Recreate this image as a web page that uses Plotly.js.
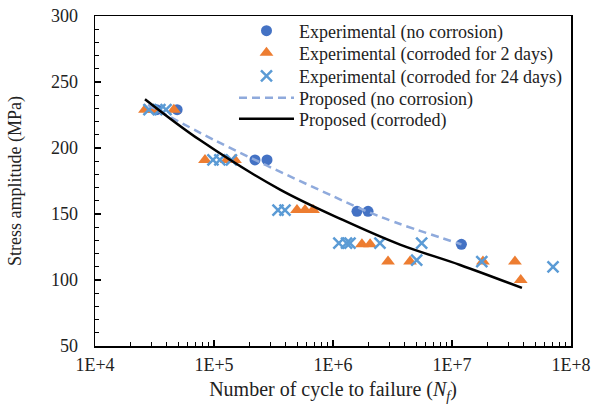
<!DOCTYPE html>
<html>
<head>
<meta charset="utf-8">
<script src="https://cdn.plot.ly/plotly-3.0.1.min.js"></script>
<style>html,body{margin:0;padding:0;background:#fff}#chart{width:594px;height:407px}</style>
</head>
<body>
<div id="chart"></div>
<script>
// Experimental (no corrosion)
const noCorrN = [33000, 49000, 221000, 279000, 1590000, 1970000, 12000000];
const noCorrS = [229, 229, 191, 191, 152, 152, 127];
// Experimental (corroded for 2 days)
const c2N = [26300, 31000, 46000, 84000, 128000, 150000, 498000, 582000, 680000, 1750000, 2050000, 2900000, 4440000, 18200000, 33800000, 37800000];
const c2S = [229, 229, 229, 191, 191, 191, 153, 153, 153, 127, 127, 114, 114, 114, 114, 100];
// Experimental (corroded for 24 days)
const c24N = [28400, 35100, 39500, 98000, 112000, 140000, 345000, 395000, 1120000, 1300000, 1390000, 2480000, 5050000, 5560000, 17800000, 70600000];
const c24S = [229, 229, 229, 191, 191, 191, 153, 153, 128, 128, 128, 128, 115, 128, 114, 110];
// Proposed (no corrosion)
const propNoN = [27900, 106000, 778000, 2480000, 12000000];
const propNoS = [232.6, 205, 168, 148, 127];
// Proposed (corroded)
const propCN = [26300, 76200, 359000, 1210000, 3660000, 11700000, 38700000];
const propCS = [237, 206, 168.5, 145.5, 126.8, 111.4, 94];
// Tick labels
const xTickVals = [1e4, 1e5, 1e6, 1e7, 1e8];
const xTickText = ['1E+4', '1E+5', '1E+6', '1E+7', '1E+8'];

const FAM = 'Liberation Serif';
const tickFont = {family: FAM, size: 18, color: '#222'};
const legFont = {family: FAM, size: 18, color: '#222'};

const traces = [
  {x: noCorrN, y: noCorrS, name: 'Experimental (no corrosion)', mode: 'markers', type: 'scatter', legend: 'legend',
   marker: {symbol: 'circle', size: 11, color: '#4472c4'}},
  {x: c2N, y: c2S, name: 'Experimental (corroded for 2 days)', mode: 'markers', type: 'scatter', legend: 'legend2',
   marker: {symbol: 'triangle-up', size: 12, color: '#ed7d31'}},
  {x: c24N, y: c24S, name: 'Experimental (corroded for 24 days)', mode: 'markers', type: 'scatter', legend: 'legend3',
   marker: {symbol: 'x-thin-open', size: 11, color: '#5b9bd5', line: {width: 2.5, color: '#5b9bd5'}}},
  {x: propNoN, y: propNoS, name: 'Proposed (no corrosion)', mode: 'lines', type: 'scatter', legend: 'legend4',
   line: {color: '#8faadc', width: 2.5, dash: '8px,5px', shape: 'spline'}},
  {x: propCN, y: propCS, name: 'Proposed (corroded)', mode: 'lines', type: 'scatter', legend: 'legend5',
   line: {color: '#000000', width: 2.5, shape: 'spline'}}
];

function leg(yc) {
  return {x: 0.292, y: yc, xanchor: 'left', yanchor: 'middle', bgcolor: 'rgba(0,0,0,0)',
          font: legFont, itemwidth: 55, tracegroupgap: 0};
}

const layout = {
  width: 594, height: 407,
  margin: {l: 95, r: 23, t: 16, b: 61},
  paper_bgcolor: '#fff', plot_bgcolor: '#fff',
  font: {family: FAM, size: 18, color: '#222'},
  showlegend: true,
  legend: leg(0.9545),
  legend2: leg(0.888),
  legend3: leg(0.818),
  legend4: leg(0.7515),
  legend5: leg(0.688),
  xaxis: {type: 'log', range: [4, 8], tickvals: xTickVals, ticktext: xTickText,
          ticks: 'inside', ticklen: 6, tickwidth: 1.3, tickcolor: '#000', tickfont: tickFont,
          minor: {ticks: 'inside', ticklen: 4, tickwidth: 1.3, tickcolor: '#000', dtick: 'D1'},
          showline: true, linecolor: '#000', linewidth: 1.5, mirror: true,
          showgrid: false, zeroline: false, ticklabelstandoff: 2,
          title: {text: 'Number of cycle to failure (<i>N</i><sub><i>f</i></sub>)',
                  font: {family: FAM, size: 20, color: '#222'}, standoff: 8}},
  yaxis: {range: [50, 300], dtick: 50, tick0: 0,
          ticks: 'inside', ticklen: 6, tickwidth: 1.3, tickcolor: '#000', tickfont: tickFont,
          minor: {ticks: 'inside', ticklen: 4, tickwidth: 1.3, tickcolor: '#000', dtick: 10},
          showline: true, linecolor: '#000', linewidth: 1.5, mirror: true,
          showgrid: false, zeroline: false, ticklabelstandoff: 12,
          title: {text: 'Stress amplitude (MPa)', font: {family: FAM, size: 18, color: '#222'}, standoff: 24}}
};

Plotly.newPlot('chart', traces, layout, {displayModeBar: false, staticPlot: true});
</script>
</body>
</html>
